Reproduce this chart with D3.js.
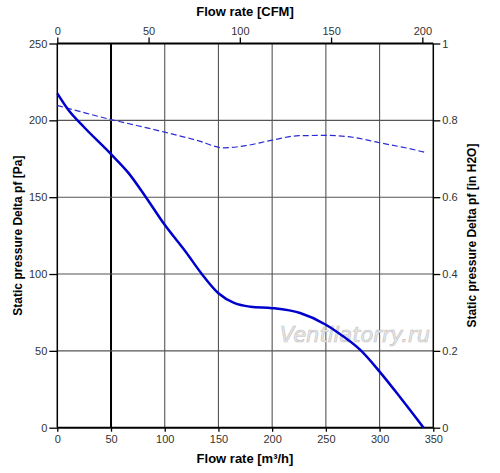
<!DOCTYPE html>
<html>
<head>
<meta charset="utf-8">
<script src="https://cdn.jsdelivr.net/npm/d3@7"></script>
<style>
body { margin: 0; background: #fff; }
</style>
</head>
<body>
<script>
var w = 500;
var h = 473;

// pressure curve, flow in m3/h, pressure in Pa
var flowSolid = [0, 10, 25, 50, 66, 82, 100, 120, 134, 150, 165, 180, 200, 226, 250, 265, 282, 300, 320, 341];
var presSolid = [217.5, 207, 195.5, 178, 166, 150.5, 132, 114, 100.5, 87.5, 81, 78.7, 77.8, 74.6, 67, 60, 50.6, 36.5, 19, 0];

// dashed curve, same units
var flowDash = [0, 25, 50, 75, 100, 130, 155, 175, 200, 225, 250, 275, 300, 325, 344];
var presDash = [209.7, 205, 200.5, 196.5, 192.3, 187, 182.1, 183.5, 187.1, 190, 190.2, 189, 185.4, 182, 178.9];

var ticksM3h = [0, 50, 100, 150, 200, 250, 300, 350];
var ticksCFM = [0, 50, 100, 150, 200];
var ticksPa = [0, 50, 100, 150, 200, 250];
var ticksH2O = [0, 0.2, 0.4, 0.6, 0.8, 1];

var pLeft = 57.3, pRight = 433.3, pTop = 43.5, pBottom = 427.7;

var x = d3.scaleLinear().domain([0, 350]).range([pLeft, pRight]);
var xCfm = d3.scaleLinear().domain([0, 350 / 1.699]).range([pLeft, pRight]);
var y = d3.scaleLinear().domain([0, 250]).range([pBottom, pTop]);
var yH2O = d3.scaleLinear().domain([0, 1]).range([pBottom, pTop]);

var svg = d3.select("body")
            .append("svg")
            .attr("width", w)
            .attr("height", h)
            .attr("font-family", "Liberation Sans, Arial, sans-serif");

// grid
svg.selectAll("line.vgrid")
    .data(ticksM3h.slice(1, -1))
    .enter()
    .append("line")
    .attr("x1", function(d){ return x(d); })
    .attr("x2", function(d){ return x(d); })
    .attr("y1", pTop)
    .attr("y2", pBottom)
    .attr("stroke", function(d){ return d == 50 ? "#000" : "#555"; })
    .attr("stroke-width", function(d){ return d == 50 ? 2 : 1.1; });

svg.selectAll("line.hgrid")
    .data(ticksPa.slice(1, -1))
    .enter()
    .append("line")
    .attr("x1", pLeft)
    .attr("x2", pRight)
    .attr("y1", function(d){ return y(d); })
    .attr("y2", function(d){ return y(d); })
    .attr("stroke", "#555")
    .attr("stroke-width", 1.1);

// axes
function styleAxis(g) {
    g.attr("font-family", null).attr("font-size", null);
    g.selectAll("text")
        .attr("font-size", "11px")
        .attr("fill", "#333");
    g.selectAll(".tick line").attr("stroke", "#000").attr("stroke-width", 1.3);
    g.select(".domain").remove();
}

svg.append("g")
    .attr("transform", "translate(0," + pBottom + ")")
    .call(d3.axisBottom(x).tickValues(ticksM3h).tickSize(4).tickPadding(4))
    .call(styleAxis);

svg.append("g")
    .attr("transform", "translate(0," + pTop + ")")
    .call(d3.axisTop(xCfm).tickValues(ticksCFM).tickSize(6).tickPadding(3))
    .call(styleAxis);

svg.append("g")
    .attr("transform", "translate(" + pLeft + ",0)")
    .call(d3.axisLeft(y).tickValues(ticksPa).tickSize(8).tickPadding(2))
    .call(styleAxis);

svg.append("g")
    .attr("transform", "translate(" + pRight + ",0)")
    .call(d3.axisRight(yH2O).tickValues(ticksH2O).tickFormat(d3.format("~g")).tickSize(7).tickPadding(2))
    .call(styleAxis);

// frame
svg.append("line").attr("x1", pLeft).attr("x2", pRight).attr("y1", pTop).attr("y2", pTop)
    .attr("stroke", "#000").attr("stroke-width", 2);
svg.append("line").attr("x1", pLeft).attr("x2", pRight).attr("y1", pBottom).attr("y2", pBottom)
    .attr("stroke", "#000").attr("stroke-width", 2);
svg.append("line").attr("x1", pLeft).attr("x2", pLeft).attr("y1", pTop).attr("y2", pBottom)
    .attr("stroke", "#000").attr("stroke-width", 1.5);
svg.append("line").attr("x1", pRight).attr("x2", pRight).attr("y1", pTop).attr("y2", pBottom)
    .attr("stroke", "#000").attr("stroke-width", 1.5);

// watermark
svg.append("text")
    .text("Ventilatorry.ru")
    .attr("x", 355)
    .attr("y", 342)
    .attr("text-anchor", "middle")
    .attr("font-family", "DejaVu Sans, sans-serif")
    .attr("font-style", "italic")
    .attr("font-size", "21px")
    .attr("fill", "#ececec")
    .attr("stroke", "#c4c4c4")
    .attr("stroke-width", 0.7);

// curves
var line = d3.line()
    .x(function(d){ return x(d[0]); })
    .y(function(d){ return y(d[1]); })
    .curve(d3.curveMonotoneX);

svg.append("path")
    .datum(d3.zip(flowDash, presDash))
    .attr("d", line)
    .attr("fill", "none")
    .attr("stroke", "#2b2bd6")
    .attr("stroke-width", 1.2)
    .attr("stroke-dasharray", "6,3");

svg.append("path")
    .datum(d3.zip(flowSolid, presSolid))
    .attr("d", line)
    .attr("fill", "none")
    .attr("stroke", "#0000cc")
    .attr("stroke-width", 2.5);

// titles
svg.append("text")
    .text("Flow rate [CFM]")
    .attr("x", 245)
    .attr("y", 16)
    .attr("text-anchor", "middle")
    .attr("font-size", "13px")
    .attr("font-weight", "bold");

svg.append("text")
    .text("Flow rate [m³/h]")
    .attr("x", 245)
    .attr("y", 463)
    .attr("text-anchor", "middle")
    .attr("font-size", "13px")
    .attr("font-weight", "bold");

svg.append("text")
    .text("Static pressure Delta pf [Pa]")
    .attr("transform", "translate(22," + ((pTop + pBottom) / 2) + ") rotate(-90)")
    .attr("text-anchor", "middle")
    .attr("font-size", "12px")
    .attr("font-weight", "bold");

svg.append("text")
    .text("Static pressure Delta pf [in H2O]")
    .attr("transform", "translate(476," + ((pTop + pBottom) / 2) + ") rotate(-90)")
    .attr("text-anchor", "middle")
    .attr("font-size", "12px")
    .attr("font-weight", "bold");
</script>
</body>
</html>
